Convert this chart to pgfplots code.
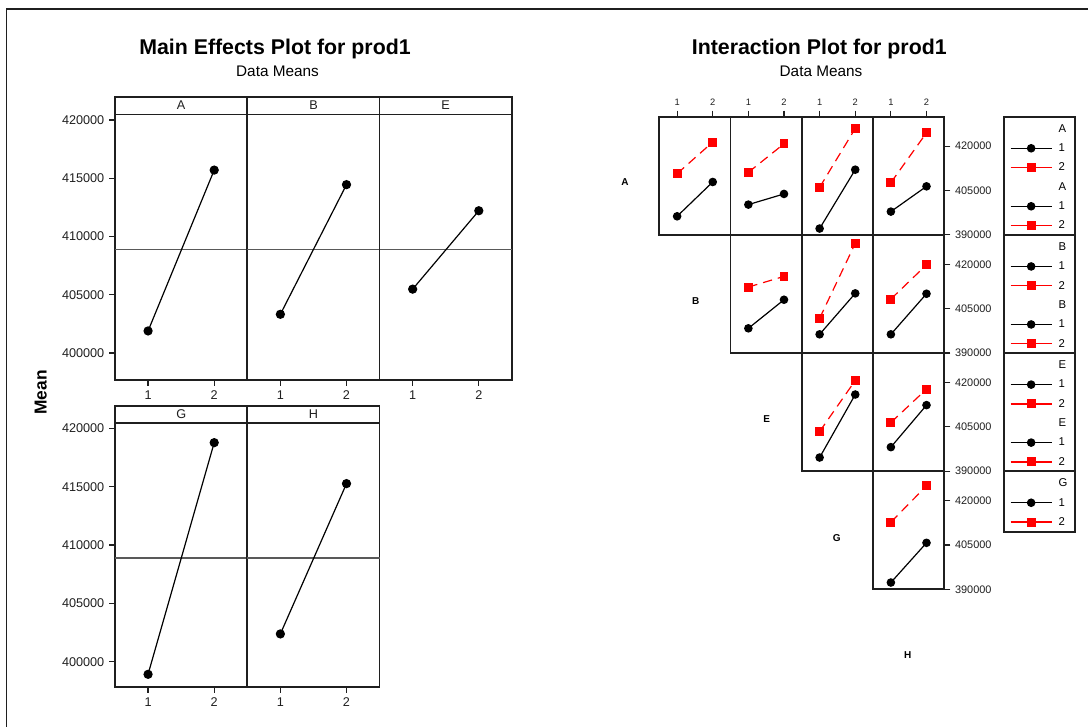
\documentclass[border=0pt]{standalone}
\usepackage{fontspec}
\setmainfont{Liberation Sans}
\usepackage{pgfplots}
\pgfplotsset{compat=1.18}

\definecolor{frame}{gray}{0.12}

\pgfplotsset{
  panel/.style={
    scale only axis, anchor=north west, clip=false,
    xmin=0.5, xmax=2.5,
    axis line style={line width=1.25pt, frame},
    tick style={line width=0.9pt, frame},
    tick align=outside, major tick length=4.5pt,
    scaled y ticks=false,
    xtick=\empty, ytick=\empty,
    ticklabel style={text=frame},
  },
  me/.style={panel, width=99.2pt,
    xtick={1,2}, xticklabels={1,2}, xtick pos=left, xticklabel pos=left,
    xticklabel style={font=\fontsize{9.5}{10}\selectfont}},
  merow1/.style={height=199.1pt, ymin=397682, ymax=420472},
  merow2/.style={height=197.55pt, ymin=397858, ymax=420428},
  meleft/.style={ytick={400000,405000,410000,415000,420000},
    yticklabels={400000,405000,410000,415000,420000},
    ytick pos=left, yticklabel pos=left,
    yticklabel style={font=\fontsize{9.5}{10}\selectfont}},
  meline/.style={black, line width=0.9pt, mark=*, mark size=3pt},
  grand/.style={black!65, line width=1pt, forget plot},
  ia/.style={panel, width=53.44pt, height=88.61pt, ymin=390000, ymax=430000},
  iatop/.style={xtick={1,2}, xticklabels={1,2}, xtick pos=right, xticklabel pos=right,
    xticklabel style={font=\fontsize{7}{8}\selectfont}},
  iaright/.style={ytick={390000,405000,420000}, yticklabels={390000,405000,420000},
    ytick pos=right, yticklabel pos=right,
    yticklabel style={font=\fontsize{8.2}{9}\selectfont}},
  lo/.style={black, line width=0.9pt, mark=*, mark size=2.75pt, forget plot},
  hi/.style={red, line width=0.9pt, dash pattern=on 7pt off 4.5pt, mark=square*,
    mark size=2.9pt, mark options={solid}, forget plot},
  leg/.style={
    legend style={at={(1.922,0.9357)}, anchor=north west, draw=none, fill=none,
      inner sep=0pt, outer sep=0pt, font=\fontsize{8.5}{9}\selectfont,
      row sep=7.5pt, column sep=4.9pt,
      nodes={inner sep=0pt, text height=6pt, text depth=1pt}},
    legend cell align=left,
    legend image code/.code={\draw[mark repeat=2, mark phase=2, ##1]
      plot coordinates {(0pt,0pt) (15.4pt,0pt) (30.75pt,0pt)};},
  },
}

\newcommand{\legtitle}[1]{\addlegendimage{empty legend}\addlegendentry{#1}}
\newcommand{\leglevels}{%
  \addlegendimage{black, line width=0.9pt, mark=*, mark size=2.75pt}\addlegendentry{1}%
  \addlegendimage{red, line width=0.9pt, mark=square*, mark size=2.9pt}\addlegendentry{2}}

\begin{document}
\begin{tikzpicture}

% ---------------- main effects ----------------
\begin{axis}[me, merow1, meleft, at={(115*0.75pt,-114.5*0.75pt)}]
  \addplot[grand] coordinates {(0.5,408900) (2.5,408900)};
  \addplot[meline] coordinates {(1,401890) (2,415700)};
\end{axis}
\begin{axis}[me, merow1, at={(247.3*0.75pt,-114.5*0.75pt)}]
  \addplot[grand] coordinates {(0.5,408900) (2.5,408900)};
  \addplot[meline] coordinates {(1,403320) (2,414450)};
\end{axis}
\begin{axis}[me, merow1, at={(379.6*0.75pt,-114.5*0.75pt)}]
  \addplot[grand] coordinates {(0.5,408900) (2.5,408900)};
  \addplot[meline] coordinates {(1,405480) (2,412210)};
\end{axis}
\begin{axis}[me, merow2, meleft, at={(115*0.75pt,-423.3*0.75pt)}]
  \addplot[grand] coordinates {(0.5,408900) (2.5,408900)};
  \addplot[meline] coordinates {(1,398920) (2,418770)};
\end{axis}
\begin{axis}[me, merow2, at={(247.3*0.75pt,-423.3*0.75pt)}]
  \addplot[grand] coordinates {(0.5,408900) (2.5,408900)};
  \addplot[meline] coordinates {(1,402380) (2,415260)};
\end{axis}

% ---------------- interaction matrix ----------------
% row A
\begin{axis}[ia, iatop, at={(659.3*0.75pt,-116.7*0.75pt)}]
  \addplot[lo] coordinates {(1,396280) (2,407900)};
  \addplot[hi] coordinates {(1,410710) (2,421420)};
\end{axis}
\begin{axis}[ia, iatop, at={(730.55*0.75pt,-116.7*0.75pt)}]
  \addplot[lo] coordinates {(1,400240) (2,403850)};
  \addplot[hi] coordinates {(1,411150) (2,420840)};
\end{axis}
\begin{axis}[ia, iatop, at={(801.8*0.75pt,-116.7*0.75pt)}]
  \addplot[lo] coordinates {(1,392130) (2,412060)};
  \addplot[hi] coordinates {(1,406080) (2,426010)};
\end{axis}
\begin{axis}[ia, iatop, iaright, leg, at={(873.05*0.75pt,-116.7*0.75pt)}]
  \addplot[lo] coordinates {(1,397870) (2,406420)};
  \addplot[hi] coordinates {(1,407670) (2,424560)};
  \legtitle{A}\leglevels
  \legtitle{A}\leglevels
\end{axis}
% row B
\begin{axis}[ia, at={(730.55*0.75pt,-234.85*0.75pt)}]
  \addplot[lo] coordinates {(1,398350) (2,408030)};
  \addplot[hi] coordinates {(1,412320) (2,415940)};
\end{axis}
\begin{axis}[ia, at={(801.8*0.75pt,-234.85*0.75pt)}]
  \addplot[lo] coordinates {(1,396320) (2,410190)};
  \addplot[hi] coordinates {(1,401740) (2,427100)};
\end{axis}
\begin{axis}[ia, iaright, leg, at={(873.05*0.75pt,-234.85*0.75pt)}]
  \addplot[lo] coordinates {(1,396320) (2,410060)};
  \addplot[hi] coordinates {(1,408260) (2,419860)};
  \legtitle{B}\leglevels
  \legtitle{B}\leglevels
\end{axis}
% row E
\begin{axis}[ia, at={(801.8*0.75pt,-353*0.75pt)}]
  \addplot[lo] coordinates {(1,394610) (2,415940)};
  \addplot[hi] coordinates {(1,403410) (2,420680)};
\end{axis}
\begin{axis}[ia, iaright, leg, at={(873.05*0.75pt,-353*0.75pt)}]
  \addplot[lo] coordinates {(1,398130) (2,412350)};
  \addplot[hi] coordinates {(1,406460) (2,417770)};
  \legtitle{E}\leglevels
  \legtitle{E}\leglevels
\end{axis}
% row G
\begin{axis}[ia, iaright, leg, at={(873.05*0.75pt,-471.15*0.75pt)}]
  \addplot[lo] coordinates {(1,392290) (2,405730)};
  \addplot[hi] coordinates {(1,412710) (2,425020)};
  \legtitle{G}\leglevels
\end{axis}

% ---------------- text, strips, frames ----------------
\begin{scope}[x=0.75pt, y=-0.75pt]
  \path[use as bounding box] (0,0) rectangle (1088,727);
  \draw[line width=0.9pt, frame] (6.7,727) -- (6.7,9) -- (1088,9);

  \node[anchor=base, font=\bfseries\fontsize{16}{19}\selectfont] at (275,55) {Main Effects Plot for prod1};
  \node[anchor=base, font=\fontsize{11.5}{13}\selectfont] at (277.5,77) {Data Means};
  \node[anchor=base, font=\bfseries\fontsize{16}{19}\selectfont] at (819.3,55) {Interaction Plot for prod1};
  \node[anchor=base, font=\fontsize{11.5}{13}\selectfont] at (821,77) {Data Means};

  \node[anchor=base, rotate=90, font=\bfseries\fontsize{13}{15}\selectfont] at (46.5,392.5) {Mean};

  \begin{scope}[line width=1.25pt, draw=frame]
    \draw (115,96.7) rectangle (247.3,114.5);
    \draw (247.3,96.7) rectangle (379.6,114.5);
    \draw (379.6,96.7) rectangle (511.9,114.5);
    \draw (115,405.7) rectangle (247.3,423.3);
    \draw (247.3,405.7) rectangle (379.6,423.3);
  \end{scope}
  \begin{scope}[font=\fontsize{9.5}{10}\selectfont, text=frame]
    \node at (181.2,105.6) {A};
    \node at (313.5,105.6) {B};
    \node at (445.7,105.6) {E};
    \node at (181.2,414.5) {G};
    \node at (313.5,414.5) {H};
  \end{scope}

  \begin{scope}[font=\bfseries\fontsize{7.5}{9}\selectfont]
    \node at (625,182.3) {A};
    \node at (695.7,301) {B};
    \node at (766.7,419) {E};
    \node at (836.7,537.7) {G};
    \node at (907.7,655) {H};
  \end{scope}

  \begin{scope}[line width=1.25pt, draw=frame]
    \draw (1004.3,116.7) rectangle (1075,234.85);
    \draw (1004.3,234.85) rectangle (1075,353);
    \draw (1004.3,353) rectangle (1075,471.15);
    \draw (1004.3,471.15) rectangle (1075,531.7);
  \end{scope}
\end{scope}
\end{tikzpicture}
\end{document}
